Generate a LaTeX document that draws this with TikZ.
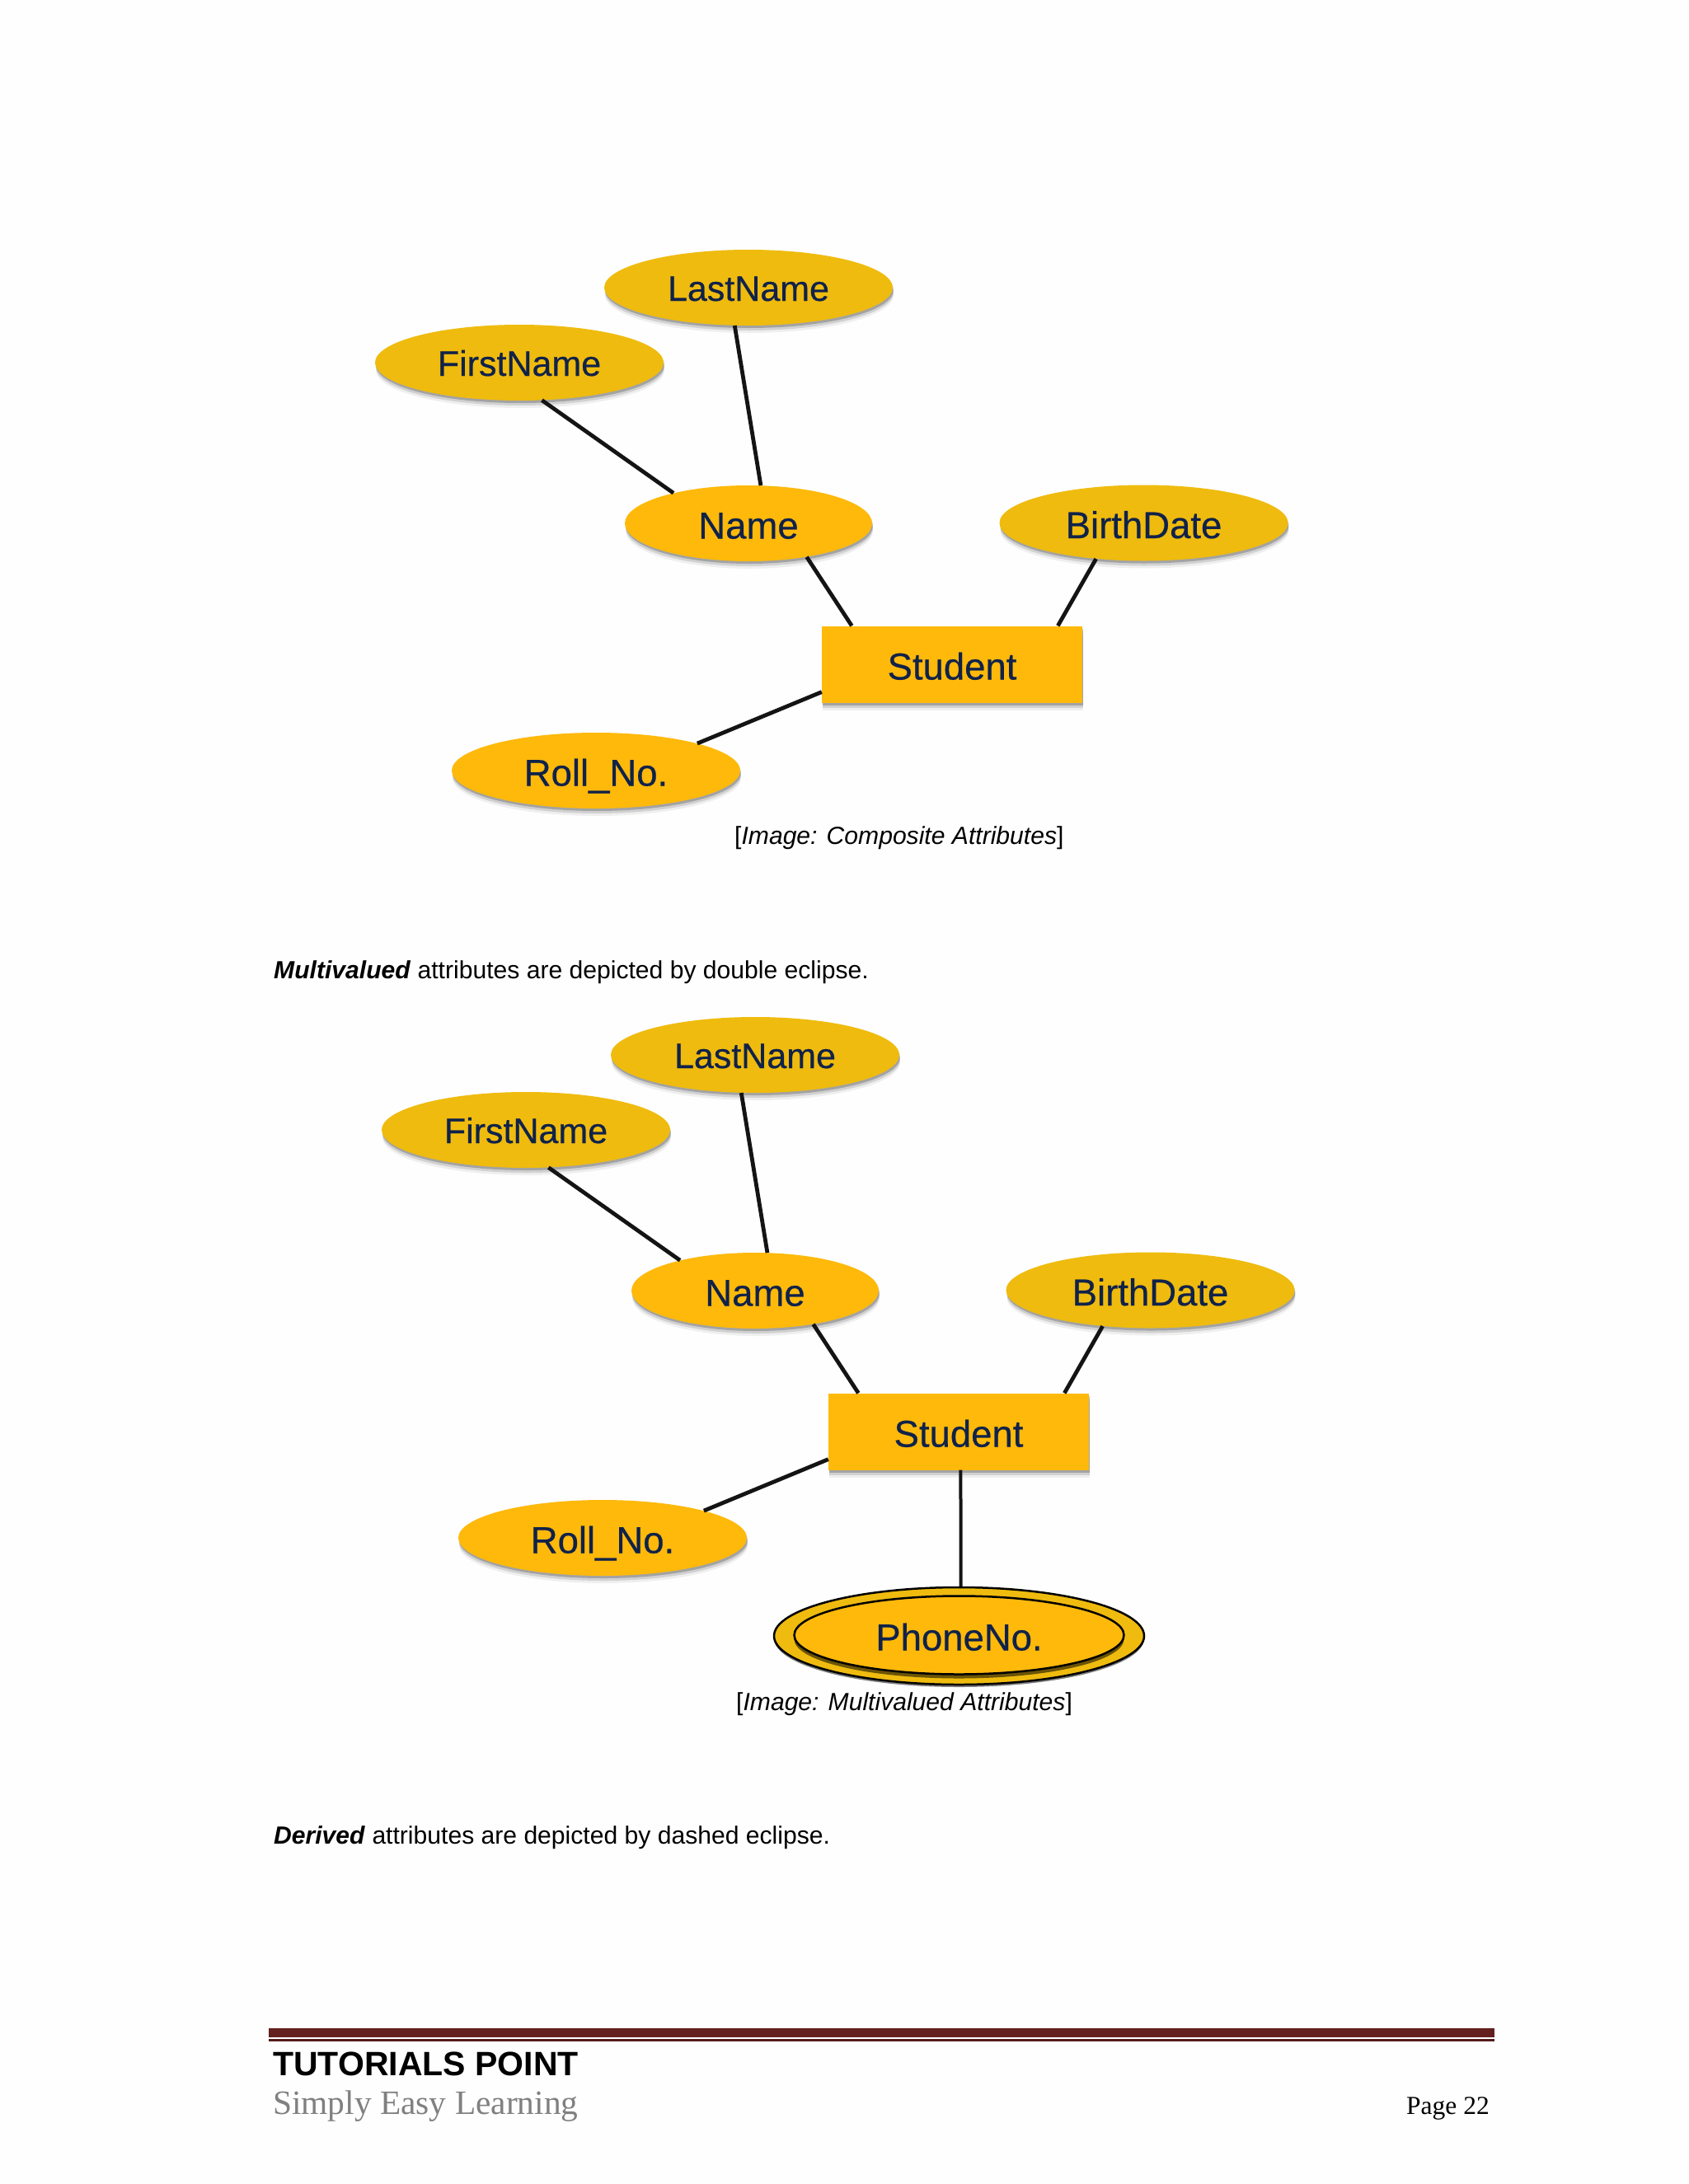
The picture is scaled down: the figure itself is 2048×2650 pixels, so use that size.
\documentclass[tikz,border=0pt]{standalone}
\usepackage{fontspec}
\setmainfont{Liberation Sans}
\newfontfamily\serifcam{Liberation Serif}
\newfontfamily\heavysans[FakeBold=0.5]{Liberation Sans}
\usetikzlibrary{shapes.geometric,shadows}
\definecolor{golddark}{HTML}{EFBB0E}
\definecolor{goldlight}{HTML}{FEB90B}
\definecolor{inknavy}{HTML}{10224A}
\definecolor{barred}{HTML}{63201F}
\definecolor{pagebg}{HTML}{FEFEFE}
\tikzset{
  softshadow/.style={general shadow={shadow xshift=1pt,shadow yshift=-9pt,fill=black,opacity=.06},
                     general shadow={shadow xshift=1pt,shadow yshift=-6pt,fill=black,opacity=.12},
                     general shadow={shadow xshift=1pt,shadow yshift=-3pt,fill=black,opacity=.22}},
  attr/.style={ellipse,inner sep=0pt,minimum height=92pt,text=inknavy,softshadow,
     font=\heavysans\fontsize{45.5}{45}\selectfont,text height=37pt,text depth=0pt},
  attrdark/.style={attr,fill=golddark,minimum width=350pt},
  attrsmall/.style={attrdark,font=\heavysans\fontsize{43}{43}\selectfont,text height=32pt},
  attrlight/.style={attr,fill=goldlight,minimum width=350pt},
  entity/.style={rectangle,inner sep=0pt,fill=goldlight,minimum width=316pt,minimum height=93pt,
     text=inknavy,softshadow,font=\heavysans\fontsize{45.5}{45}\selectfont,text height=37pt,text depth=0pt},
  conn/.style={line width=4.8pt,color=black!92},
  bodytext/.style={anchor=base west,inner sep=0pt,font=\fontsize{30.1}{30}\selectfont,text=black},
}
\newcommand{\erdiagram}{%
  \node[attrsmall] (last) at (908,349) {LastName};
  \node[attrsmall] (first) at (630,440) {FirstName};
  \node[attrlight,minimum width=300pt] (name) at (908,635) {Name};
  \node[attrdark] (birth) at (1387.5,634.5) {BirthDate};
  \node[entity] (student) at (1155,806) {Student};
  \node[attrlight] (roll) at (723,935) {Roll\_No.};
  \draw[conn] (first.-59.4) -- (name.158);
  \draw[conn] (last.-110) -- (name.72);
  \draw[conn] (name.-30) -- (student.159.7);
  \draw[conn] (birth.-143) -- (student.20.9);
  \draw[conn] (student.-168.2) -- (roll.15);
}
\begin{document}
\begin{tikzpicture}[x=1pt,y=-1pt]
  \path[use as bounding box,fill=pagebg] (0,0) rectangle (2048,2650);
  \begin{scope}[name prefix=a-]
    \erdiagram
  \end{scope}
  \begin{scope}[shift={(8,931)},name prefix=b-]
    \erdiagram
    \node[ellipse,inner sep=0pt,minimum width=449pt,minimum height=118pt,fill=golddark,draw=black,line width=2.5pt,
       general shadow={shadow yshift=-3pt,fill=black,opacity=.5}] (phoneout) at (1155.5,1054) {};
    \node[ellipse,inner sep=0pt,minimum width=400pt,minimum height=95pt,fill=goldlight,draw=black,line width=2.5pt,
       text=inknavy,font=\heavysans\fontsize{45.5}{45}\selectfont,text height=37pt,text depth=0pt,
       general shadow={shadow yshift=-5pt,fill=black,opacity=.55}] (phonein) at (1155.5,1053) {PhoneNo.};
    \draw[conn,line width=4pt] (student.-87) -- (phoneout.88);
  \end{scope}
  \node[bodytext] (cap1) at (891,1024) {[\textit{Image: Composite Attributes}]};
  \node[bodytext] (para1) at (332,1187) {\textbf{\textit{Multivalued}} attributes are depicted by double eclipse.};
  \node[bodytext] (cap2) at (893,2075) {[\textit{Image: Multivalued Attributes}]};
  \node[bodytext] (para2) at (332,2237) {\textbf{\textit{Derived}} attributes are depicted by dashed eclipse.};
  \fill[barred] (326,2461) rectangle (1813,2472);
  \fill[barred!85!black] (326,2474) rectangle (1813,2477);
  \node[anchor=base west,inner sep=0pt,font=\bfseries\fontsize{41}{41}\selectfont] (brand) at (331,2518) {TUTORIALS POINT};
  \node[anchor=base west,inner sep=0pt,font=\serifcam\fontsize{41.4}{41}\selectfont,text=black!50] (slogan) at (331,2565) {Simply Easy Learning};
  \node[anchor=base east,inner sep=0pt,font=\serifcam\fontsize{31.5}{31}\selectfont] (page) at (1807,2565) {Page 22};
\end{tikzpicture}
\end{document}
